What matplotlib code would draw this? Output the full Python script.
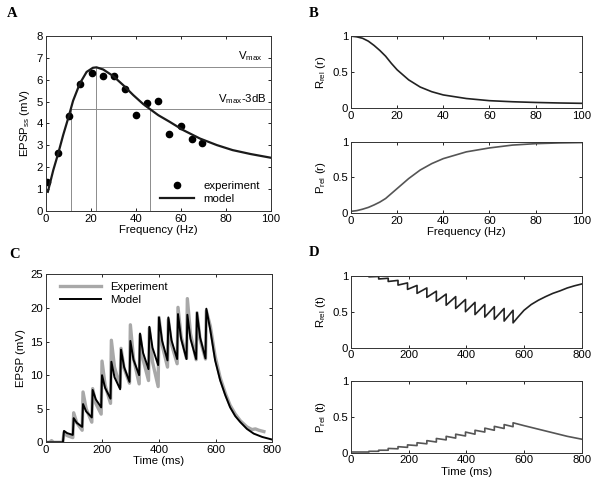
import numpy as np
from matplotlib import pyplot as plt

plt.rcParams['font.family'] = ['Liberation Sans', 'DejaVu Sans']
plt.rcParams['mathtext.fontset'] = 'custom'
plt.rcParams['mathtext.rm'] = 'Liberation Sans'
plt.rcParams['mathtext.it'] = 'Liberation Sans:italic'
FS = 8.2
plt.rcParams['font.size'] = FS

# ---- panel A: steady state EPSP vs frequency
exp_freq = [0.7, 5.3, 10.2, 15.2, 20.4, 25.3, 30.2, 35.1, 40.2, 45.0, 49.9, 54.7, 59.9, 64.9, 69.5]
exp_epsp = [1.33, 2.67, 4.34, 5.80, 6.29, 6.17, 6.17, 5.60, 4.38, 4.93, 5.02, 3.54, 3.89, 3.31, 3.11]
model_freq = [1, 3.4, 5.6, 7.8, 10.2, 12.2, 15.2, 18.2, 21, 22.6, 25.6, 30, 34.4, 38.9,
              43.3, 46.3, 50, 55, 61, 68.5, 76, 83, 91, 100]
model_epsp = [0.87, 1.86, 2.63, 3.47, 4.30, 5.04, 5.83, 6.36, 6.55, 6.57, 6.47, 6.17, 5.76, 5.30,
              4.89, 4.66, 4.38, 4.08, 3.70, 3.31, 3.01, 2.78, 2.60, 2.43]
v_max, f_max = 6.57, 22.3
v_3db, f_lo, f_hi = 4.64, 11.3, 46.4

# ---- panel B: relative R and P vs rate
b_freq = [0, 2.5, 5, 7.5, 10, 12.5, 15, 17.5, 20, 22.5, 25, 30, 35, 40, 50, 60, 70, 80, 90, 100]
r_rel = [1.0, 0.99, 0.97, 0.93, 0.87, 0.80, 0.72, 0.62, 0.53, 0.46, 0.39, 0.29, 0.225, 0.18,
         0.13, 0.10, 0.085, 0.075, 0.068, 0.063]
p_rel = [0.02, 0.03, 0.05, 0.075, 0.11, 0.15, 0.20, 0.27, 0.34, 0.41, 0.48, 0.60, 0.69, 0.76,
         0.855, 0.91, 0.95, 0.97, 0.98, 0.985]

# ---- panel C: EPSP trains
pulse_t = [62, 96, 129, 163, 196, 229, 263, 296, 330, 363, 397, 430, 464, 497, 531, 564]
mod_peak = [1.7, 3.6, 5.7, 7.8, 10.0, 12.0, 13.8, 15.1, 16.2, 17.2, 18.6, 18.6, 19.1, 19.0, 19.3, 19.9]
mod_mid = [1.37, 2.9, 4.6, 6.4, 8.1, 9.7, 11.2, 12.3, 13.3, 14.1, 15.1, 15.2, 15.4, 15.4, 15.6]
mod_trough = [1.1, 2.3, 3.7, 5.2, 6.5, 7.9, 9.0, 10.0, 10.9, 11.5, 12.2, 12.4, 12.4, 12.4, 12.5]
mod_tail_t = [581, 598, 616, 634, 651, 669, 687, 710, 734, 764, 800]
mod_tail_v = [16.7, 12.2, 9.2, 7.0, 5.2, 3.9, 3.0, 2.0, 1.3, 0.8, 0.4]

exp_peak = [1.5, 4.4, 7.5, 8.0, 12.1, 15.2, 14.0, 17.5, 16.0, 17.0, 18.6, 18.3, 20.1, 21.4, 19.3, 19.6]
exp_mid = [1.0, 2.9, 5.0, 5.8, 8.5, 11.2, 11.0, 12.5, 12.3, 12.0, 14.5, 14.6, 15.8, 16.2, 15.3]
exp_trough = [0.7, 1.8, 3.0, 4.2, 5.8, 8.2, 8.8, 8.7, 9.2, 8.3, 11.2, 11.7, 12.5, 12.3, 12.4]
exp_base_t = [0, 14, 21, 28, 61]
exp_base_v = [0, 0, 0.25, 0, 0]
exp_tail_t = [581, 598, 616, 634, 651, 669, 687, 710, 728, 740, 752, 770]
exp_tail_v = [17.3, 12.8, 9.6, 7.3, 5.5, 4.2, 3.2, 2.3, 1.9, 2.0, 1.8, 1.6]

# ---- panel D: R_rel(t), P_rel(t)
d_pulse_t = [62, 96, 129, 163, 196, 229, 263, 296, 330, 363, 397, 430, 464, 497, 531, 562]
r_before = [1.0, 0.99, 0.965, 0.935, 0.90, 0.865, 0.83, 0.785, 0.745, 0.71, 0.67, 0.63, 0.60, 0.57, 0.545, 0.52]
r_after = [0.985, 0.955, 0.92, 0.87, 0.81, 0.755, 0.70, 0.645, 0.59, 0.545, 0.50, 0.46, 0.425, 0.395, 0.37, 0.345]
r_tail_t = [580, 600, 625, 650, 675, 700, 725, 750, 775, 800]
r_tail_v = [0.43, 0.52, 0.60, 0.66, 0.71, 0.755, 0.79, 0.83, 0.86, 0.885]
p_before = [0.01, 0.02, 0.035, 0.055, 0.075, 0.10, 0.125, 0.15, 0.18, 0.205, 0.235, 0.26, 0.29, 0.315, 0.34, 0.365]
p_after = [0.02, 0.035, 0.06, 0.085, 0.11, 0.14, 0.17, 0.20, 0.23, 0.26, 0.29, 0.315, 0.345, 0.37, 0.395, 0.42]
p_tail_t = [600, 650, 700, 750, 800]
p_tail_v = [0.38, 0.33, 0.28, 0.23, 0.19]


def train(pulses, peaks, mids, troughs, base_t, base_v, tail_t, tail_v):
    # sharp rise at each pulse, decay to the next trough
    t = list(base_t)
    v = list(base_v)
    for k in range(len(pulses)):
        t.append(pulses[k] + 3)
        v.append(peaks[k])
        if k < len(pulses) - 1:
            t += [pulses[k] + 14, pulses[k + 1]]
            v += [mids[k], troughs[k]]
    return t + list(tail_t), v + list(tail_v)


def steps(pulses, before, after, tail_t, tail_v):
    t, v = [0], [before[0]]
    for k in range(len(pulses)):
        t += [pulses[k], pulses[k]]
        v += [before[k], after[k]]
    return t + list(tail_t), v + list(tail_v)


def style(ax):
    ax.tick_params(direction='in', top=True, right=True, length=2.5, width=0.6,
                   labelsize=FS, pad=2)
    for s in ax.spines.values():
        s.set_linewidth(0.7)
        s.set_color('#333333')


def unit_y(ax):
    ax.set_ylim(0, 1)
    ax.set_yticks([0, 0.5, 1])
    ax.set_yticklabels(['0', '0.5', '1'])


fig = plt.figure(figsize=(6, 4.88), dpi=100)

# A
axA = fig.add_axes([0.076, 0.568, 0.3755, 0.358])
refc = '#8c8c8c'
axA.plot([f_max, 100], [v_max, v_max], color=refc, lw=0.7)
axA.plot([f_max, f_max], [0, v_max], color=refc, lw=0.7)
axA.plot([f_lo, 100], [v_3db, v_3db], color=refc, lw=0.7)
axA.plot([f_lo, f_lo], [0, v_3db], color=refc, lw=0.7)
axA.plot([f_hi, f_hi], [0, v_3db], color=refc, lw=0.7)
axA.plot(exp_freq, exp_epsp, 'o', color='black', ms=4.5, label='experiment')
axA.plot(model_freq, model_epsp, color='#1a1a1a', lw=1.6, label='model')
axA.text(96.5, 6.75, r'V$_{\rm max}$', ha='right', va='bottom', fontsize=FS)
axA.text(98, 4.8, r'V$_{\rm max}$-3dB', ha='right', va='bottom', fontsize=FS)
axA.set_xlim(0, 100)
axA.set_ylim(0, 8)
axA.set_xticks(range(0, 101, 20))
axA.set_yticks(range(0, 9))
axA.set_xlabel('Frequency (Hz)', labelpad=1)
axA.set_ylabel(r'EPSP$_{\rm ss}$ (mV)', labelpad=3)
axA.legend(loc='lower right', frameon=False, fontsize=FS, handlelength=3.0,
           borderaxespad=0.2, labelspacing=0.3, bbox_to_anchor=(0.98, 0.0))
style(axA)

# B
axB1 = fig.add_axes([0.585, 0.779, 0.3845, 0.147])
axB1.plot(b_freq, r_rel, color='#222222', lw=1.2)
axB1.set_xlim(0, 100)
axB1.set_xticks(range(0, 101, 20))
unit_y(axB1)
axB1.set_ylabel(r'R$_{\rm rel}$ (r)', labelpad=3)
style(axB1)

axB2 = fig.add_axes([0.585, 0.564, 0.3845, 0.146])
axB2.plot(b_freq, p_rel, color='#555555', lw=1.2)
axB2.set_xlim(0, 100)
axB2.set_xticks(range(0, 101, 20))
unit_y(axB2)
axB2.set_ylabel(r'P$_{\rm rel}$ (r)', labelpad=3)
axB2.set_xlabel('Frequency (Hz)', labelpad=1)
style(axB2)

# C
axC = fig.add_axes([0.076, 0.0936, 0.378, 0.344])
et, ev = train(pulse_t, exp_peak, exp_mid, exp_trough, exp_base_t, exp_base_v, exp_tail_t, exp_tail_v)
mt, mv = train(pulse_t, mod_peak, mod_mid, mod_trough, [0, 61], [0, 0], mod_tail_t, mod_tail_v)
axC.plot(et, ev, color='#a8a8a8', lw=2.4, label='Experiment')
axC.plot(mt, mv, color='black', lw=1.4, label='Model')
axC.set_xlim(0, 800)
axC.set_ylim(0, 25)
axC.set_xticks(range(0, 801, 200))
axC.set_yticks(range(0, 26, 5))
axC.set_xlabel('Time (ms)', labelpad=1)
axC.set_ylabel('EPSP (mV)', labelpad=3)
axC.legend(loc='upper left', frameon=False, fontsize=FS, handlelength=3.6,
           borderaxespad=0.3, labelspacing=0.2, bbox_to_anchor=(0.03, 1.0))
style(axC)

# D
axD1 = fig.add_axes([0.585, 0.2875, 0.3845, 0.1475])
rt, rv = steps(d_pulse_t, r_before, r_after, r_tail_t, r_tail_v)
axD1.plot(rt, rv, color='#222222', lw=1.2)
axD1.set_xlim(0, 800)
axD1.set_xticks(range(0, 801, 200))
unit_y(axD1)
axD1.set_ylabel(r'R$_{\rm rel}$ (t)', labelpad=3)
style(axD1)

axD2 = fig.add_axes([0.585, 0.0723, 0.3845, 0.146])
pt, pv = steps(d_pulse_t, p_before, p_after, p_tail_t, p_tail_v)
axD2.plot(pt, pv, color='#555555', lw=1.2)
axD2.set_xlim(0, 800)
axD2.set_xticks(range(0, 801, 200))
unit_y(axD2)
axD2.set_ylabel(r'P$_{\rm rel}$ (t)', labelpad=3)
axD2.set_xlabel('Time (ms)', labelpad=1)
style(axD2)

for lab, x, y in [('A', 0.012, 0.985), ('B', 0.515, 0.985), ('C', 0.015, 0.492), ('D', 0.515, 0.496)]:
    fig.text(x, y, lab, fontsize=10.5, fontweight='bold', family='Liberation Serif', va='top')

fig.savefig('out.png', dpi=100)
